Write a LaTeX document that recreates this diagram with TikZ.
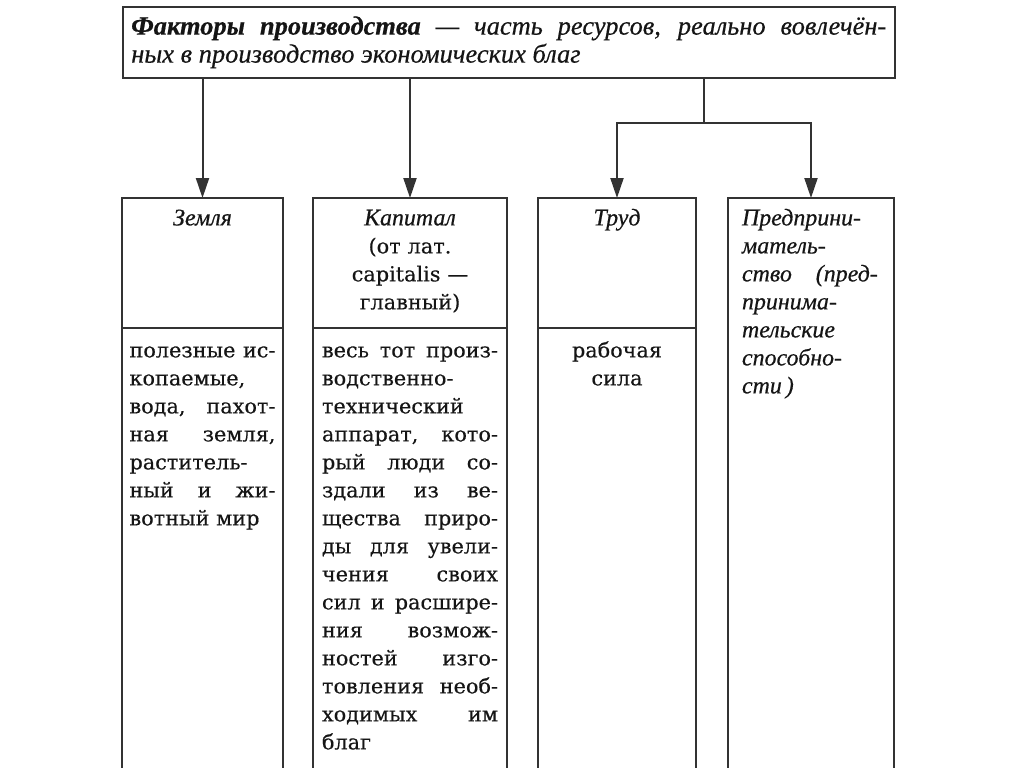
\documentclass[tikz,border=0pt]{standalone}
\usepackage{fontspec}
\setmainfont{DejaVu Serif}[FakeBold=0.4]
\newfontfamily\cursive{Liberation Serif}[Scale=1.15, FakeBold=0.5]
\usetikzlibrary{positioning,arrows.meta}
\definecolor{inkline}{HTML}{333333}
\definecolor{inktext}{HTML}{151515}

\begin{document}
\begin{tikzpicture}[x=0.5pt,y=-0.5pt,
    frame/.style={draw=inkline, line width=1pt, inner sep=0pt, outer sep=0pt},
    cell/.style={text=inktext, inner xsep=0pt, execute at begin node=\strut,
      font=\fontsize{10.4}{14}\selectfont},
    head/.style={cell, inner ysep=3.7pt},
    body/.style={cell, inner ysep=4.7pt},
    feed/.style={draw=inkline, line width=1pt, -{Triangle[length=10pt,width=6.5pt]}}]
  \useasboundingbox (0,0) rectangle (1024,767);
  % title
  \node[frame, anchor=north west, minimum width=386.25pt, minimum height=35.75pt,
    text width=377.5pt, align=justify, text=inktext,
    font=\fontsize{11.5}{14}\selectfont\cursive\itshape] (factors) at (122.5,6.5)
    {\textbf{Факторы производства} — часть ресурсов, реально вовлечён-\linebreak
     ных в производство экономических благ};
  % frames
  \node[frame, anchor=north west, minimum width=80.5pt, minimum height=65pt] (landtop) at (122,198) {};
  \node[frame, below=0pt of landtop, minimum width=80.5pt, minimum height=220.5pt] (landbot) {};
  \node[frame, anchor=north west, minimum width=97pt, minimum height=65pt] (captop) at (313,198) {};
  \node[frame, below=0pt of captop, minimum width=97pt, minimum height=220.5pt] (capbot) {};
  \node[frame, anchor=north west, minimum width=79pt, minimum height=65pt] (labtop) at (538,198) {};
  \node[frame, below=0pt of labtop, minimum width=79pt, minimum height=220.5pt] (labbot) {};
  \node[frame, anchor=north west, minimum width=83pt, minimum height=285.5pt] (entbox) at (728,198) {};
  % texts
  \node[head, below=0pt of landtop.north, text width=72pt, align=center] (landname) {\cursive\itshape Земля};
  \node[body, below=0pt of landbot.north, text width=73pt, align=justify] (landtext)
    {полезные~ис-\linebreak копаемые,\linebreak вода, пахот-\linebreak ная земля,\linebreak
     раститель-\linebreak ный и жи-\linebreak вотный~мир};
  \node[head, below=0pt of captop.north, text width=88pt, align=center] (capname)
    {{\cursive\itshape Капитал}\\(от лат.\\capitalis —\\главный)};
  \node[body, below=0pt of capbot.north, text width=88pt, align=justify] (captext)
    {весь~тот~произ-\linebreak водственно-\linebreak технический\linebreak аппарат,~кото-\linebreak
     рый люди со-\linebreak здали из ве-\linebreak щества приро-\linebreak ды~для~увели-\linebreak
     чения своих\linebreak сил~и~расшире-\linebreak ния возмож-\linebreak ностей изго-\linebreak
     товления~необ-\linebreak ходимых им\linebreak благ};
  \node[head, below=0pt of labtop.north, text width=70pt, align=center] (labname) {\cursive\itshape Труд};
  \node[body, below=0pt of labbot.north, text width=70pt, align=center] (labtext) {рабочая\\сила};
  \node[head, below=0pt of entbox.north, xshift=2.5pt, text width=74pt, align=left] (entname)
    {\cursive\itshape Предприни-\\матель-\\ство\nobreak\quad(пред-\\принима-\\тельские\\способно-\\сти\,)};
  % connectors
  \coordinate (fork) at (704,123);
  \draw[feed] (factors.south -| landtop.north) -- (landtop.north);
  \draw[feed] (factors.south -| captop.north) -- (captop.north);
  \draw[draw=inkline, line width=1pt] (factors.south -| fork) -- (fork);
  \draw[feed] (fork) -| (labtop.north);
  \draw[feed] (fork) -| (entbox.north);
\end{tikzpicture}
\end{document}
